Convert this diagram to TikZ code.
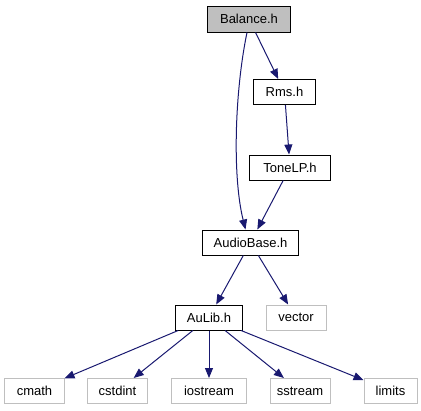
\documentclass[tikz,border=0pt]{standalone}
\usepackage{fontspec}
\setmainfont{Liberation Sans}
\usetikzlibrary{arrows.meta}
\definecolor{edgeblue}{HTML}{191970}
\definecolor{lgray}{HTML}{BFBFBF}
\tikzset{
  box/.style={draw=black, line width=1bp, minimum height=25bp, inner sep=0pt, font=\fontsize{13bp}{15bp}\selectfont, text=black},
  sysbox/.style={box, draw=lgray},
  edge/.style={draw=edgeblue, line width=1bp, -{Triangle[length=10bp,width=8bp]}},
}
\begin{document}
\begin{tikzpicture}[x=1bp,y=-1bp]
\useasboundingbox (0,0) rectangle (421,411);
\node[box, fill=lgray, minimum width=82bp, minimum height=26bp] (bal) at (249,19) {Balance.h};
\node[box, minimum width=61bp] (rms) at (284.5,92) {Rms.h};
\node[box, minimum width=80bp] (tone) at (290,167.5) {ToneLP.h};
\node[box, minimum width=95bp] (ab) at (250.5,242.5) {AudioBase.h};
\node[box, minimum width=66bp] (aulib) at (209,317.5) {AuLib.h};
\node[sysbox, minimum width=60bp] (vector) at (296,317.5) {vector};
\node[sysbox, minimum width=59bp] (cmath) at (34.5,391) {cmath};
\node[sysbox, minimum width=59bp] (cstdint) at (117.5,391) {cstdint};
\node[sysbox, minimum width=74bp] (iostream) at (209,391) {iostream};
\node[sysbox, minimum width=60bp] (sstream) at (300,391) {sstream};
\node[sysbox, minimum width=53bp] (limits) at (390.5,391) {limits};

\draw[edge] ([xshift=-2bp]bal.south) .. controls (235,90) and (232,175) .. ([xshift=-5bp]ab.north);
\draw[edge] (bal) -- (rms);
\draw[edge] (rms) -- (tone);
\draw[edge] (tone) -- (ab);
\draw[edge] (ab) -- (aulib);
\draw[edge] (ab) -- (vector);
\draw[edge] (aulib) -- (cmath);
\draw[edge] (aulib) -- (cstdint);
\draw[edge] (aulib) -- (iostream);
\draw[edge] (aulib) -- (sstream);
\draw[edge] (aulib) -- (limits);
\end{tikzpicture}
\end{document}
